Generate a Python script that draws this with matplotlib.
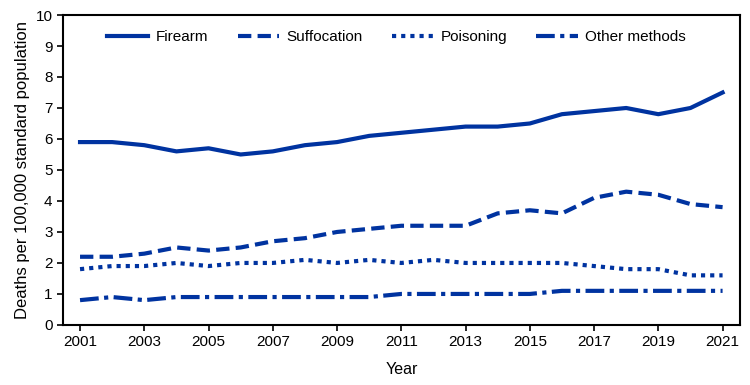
import matplotlib
matplotlib.use('Agg')
import matplotlib.pyplot as plt

plt.rcParams['font.family'] = ['Liberation Sans', 'DejaVu Sans']

years = list(range(2001, 2022))
firearm = [5.9, 5.9, 5.8, 5.6, 5.7, 5.5, 5.6, 5.8, 5.9, 6.1, 6.2,
           6.3, 6.4, 6.4, 6.5, 6.8, 6.9, 7.0, 6.8, 7.0, 7.5]
suffocation = [2.2, 2.2, 2.3, 2.5, 2.4, 2.5, 2.7, 2.8, 3.0, 3.1, 3.2,
               3.2, 3.2, 3.6, 3.7, 3.6, 4.1, 4.3, 4.2, 3.9, 3.8]
poisoning = [1.8, 1.9, 1.9, 2.0, 1.9, 2.0, 2.0, 2.1, 2.0, 2.1, 2.0,
             2.1, 2.0, 2.0, 2.0, 2.0, 1.9, 1.8, 1.8, 1.6, 1.6]
other = [0.8, 0.9, 0.8, 0.9, 0.9, 0.9, 0.9, 0.9, 0.9, 0.9, 1.0,
         1.0, 1.0, 1.0, 1.0, 1.1, 1.1, 1.1, 1.1, 1.1, 1.1]

color = '#0033a0'
lw = 3.0

fig = plt.figure(figsize=(7.5, 3.85), dpi=100)
ax = fig.add_axes([0.084, 0.156, 0.903, 0.805])

ax.plot(years, firearm, color=color, lw=lw, linestyle='-', label='Firearm')
ax.plot(years, suffocation, color=color, lw=lw, linestyle=(0, (3.2, 1.5)), label='Suffocation')
ax.plot(years, poisoning, color=color, lw=lw, linestyle=(0, (1, 1.2)), label='Poisoning')
ax.plot(years, other, color=color, lw=lw, linestyle=(0, (4.5, 1.3, 1, 1.3)), label='Other methods')

ax.set_xlim(2000.47, 2021.55)
ax.set_ylim(0, 10)
ax.set_xticks(range(2001, 2022, 2))
ax.set_yticks(range(0, 11))
ax.tick_params(labelsize=11, width=1.2, length=4)
for s in ax.spines.values():
    s.set_linewidth(1.5)

ax.set_xlabel('Year', fontsize=11.5, labelpad=9)
ax.set_ylabel('Deaths per 100,000 standard population', fontsize=12)

ax.legend(loc='upper left', bbox_to_anchor=(0.045, 0.995), ncol=4, frameon=False,
          fontsize=11, handlelength=2.7, handletextpad=0.5, columnspacing=1.9)

fig.savefig('out.png', dpi=100)
